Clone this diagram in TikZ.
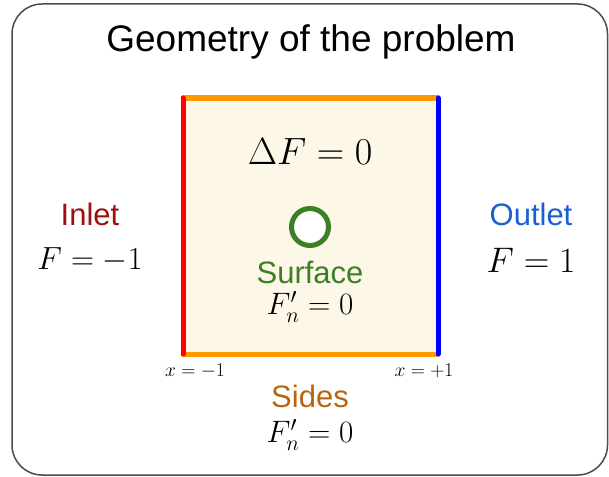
\documentclass[tikz,border=0pt]{standalone}
\usepackage{fontspec}
\newfontfamily\labfont{Liberation Sans}
% math fonts at any size
\DeclareFontShape{OT1}{cmr}{m}{n}{<-8.5>cmr7<8.5-14>cmr10<14->cmr17}{}
\DeclareFontShape{OML}{cmm}{m}{it}{<-8.5>cmmi7<8.5-14>cmmi10<14->cmmi12}{}
\DeclareFontShape{OMS}{cmsy}{m}{n}{<-8.5>cmsy7<8.5->cmsy10}{}
\definecolor{inletred}{HTML}{A00F0F}
\definecolor{outletblue}{HTML}{1A5FD6}
\definecolor{surfgreen}{HTML}{3C7F24}
\definecolor{sidebrown}{HTML}{B8650F}
\definecolor{sideorange}{HTML}{FF9900}
\definecolor{domfill}{HTML}{FDF7E7}
\begin{document}
\begin{tikzpicture}[x=1pt, y=-1pt,
        wall/.style={line width=5pt, line cap=round},
        word/.style={font=\labfont\fontsize{31}{36}\selectfont, inner sep=0pt},
        eqn/.style={font=\fontsize{31}{36}\selectfont, inner sep=0pt},
        tick/.style={font=\fontsize{19.5}{22}\selectfont, inner sep=0pt},
    ]
        \useasboundingbox (0,0) rectangle (609,476);
        % moldura
        \draw[gray!60!black, line width=1.5pt, rounded corners=30pt] (12,4) rectangle (607.5,475);
        \node[font=\labfont\fontsize{37}{42}\selectfont] (titulo) at (311,42) {Geometry of the problem};
        % dominio
        \coordinate (sw) at (183,354);
        \coordinate (se) at (438,354);
        \coordinate (ne) at (438,98);
        \coordinate (nw) at (183,98);
        \fill[domfill] (sw) rectangle (ne);
        \draw[wall, sideorange] (nw) -- (ne);
        \draw[wall, sideorange] (sw) -- (se);
        \draw[wall, red] (sw) -- (nw);
        \draw[wall, blue] (se) -- (ne);
        % obstaculo
        \draw[surfgreen, line width=5pt, fill=white] (310,227) circle (18.5);
        % rotulos
        \node[eqn, font=\fontsize{38}{44}\selectfont] (laplace) at (310,152) {$\Delta F = 0$};
        \node[word, text=surfgreen] (surf) at (310,272) {Surface};
        \node[eqn] (surfbc) at (310,307) {$F'_n = 0$};
        \node[word, text=inletred] (inlet) at (90,214) {Inlet};
        \node[eqn, font=\fontsize{32}{36}\selectfont] (inletbc) at (90,260) {$F = -1$};
        \node[word, text=outletblue] (outlet) at (531,214) {Outlet};
        \node[eqn, font=\fontsize{35.5}{40}\selectfont] (outletbc) at (531,260) {$F = 1$};
        \node[tick] (xl) at (195,371) {$x = -1$};
        \node[tick] (xr) at (424,371) {$x = +1$};
        \node[word, text=sidebrown] (sides) at (310,396) {Sides};
        \node[eqn] (sidesbc) at (310,435) {$F'_n = 0$};
    \end{tikzpicture}
\end{document}
